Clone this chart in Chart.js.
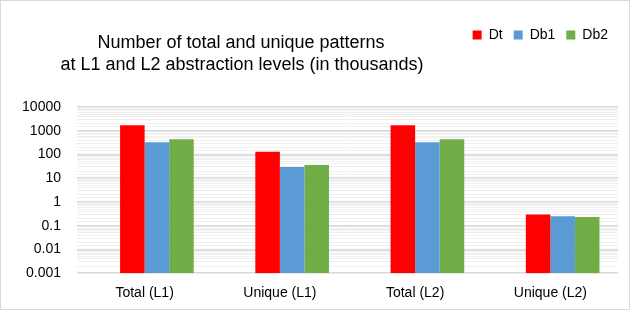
<!DOCTYPE html>
<html>
<head>
<meta charset="utf-8">
<script src="https://cdn.jsdelivr.net/npm/chart.js@4/dist/chart.umd.min.js"></script>
<style>
html,body{margin:0;padding:0;background:#fff;}
#wrap{width:630px;height:310px;position:relative;}
</style>
</head>
<body>
<div id="wrap"><canvas id="c" width="630" height="310"></canvas></div>
<script>
const categories = ["Total (L1)", "Unique (L1)", "Total (L2)", "Unique (L2)"];
const seriesNames = ["Dt", "Db1", "Db2"];
const dtValues = [1700, 130, 1700, 0.30];
const db1Values = [330, 30, 330, 0.25];
const db2Values = [440, 36, 440, 0.235];
const emptySlot = [null, null, null, null];
const yTickLabels = ["10000", "1000", "100", "10", "1", "0.1", "0.01", "0.001"];
const titleLines = ["Number of total and unique patterns", "at L1 and L2 abstraction levels (in thousands)"];
const colors = ["#FF0000", "#5B9BD5", "#70AD47"];

const FONT = "'Liberation Sans', Arial, sans-serif";

const frameAndTitle = {
  id: 'frameAndTitle',
  afterInit(chart) {
    const lg = chart.legend;
    if (lg) {
      const orig = lg.fit;
      lg.fit = function () { orig.call(this); this.height += 55; };
    }
  },
  afterLayout(chart) {
    if (chart.legend) chart.legend.right = 619;
  },
  afterDraw(chart) {
    const ctx = chart.ctx;
    ctx.save();
    ctx.strokeStyle = '#d9d9d9';
    ctx.lineWidth = 1;
    ctx.strokeRect(0.5, 0.5, chart.width - 1, chart.height - 1);
    ctx.fillStyle = '#000';
    ctx.font = '18px ' + FONT;
    ctx.textAlign = 'center';
    ctx.textBaseline = 'middle';
    ctx.fillText(titleLines[0], 241, 43);
    ctx.fillText(titleLines[1], 242, 65);
    ctx.restore();
  }
};

const tickSet = new Set(yTickLabels.map(Number));

new Chart(document.getElementById('c'), {
  type: 'bar',
  data: {
    labels: categories,
    datasets: [
      { label: '', data: emptySlot, backgroundColor: 'rgba(0,0,0,0)' },
      { label: seriesNames[0], data: dtValues, backgroundColor: colors[0] },
      { label: seriesNames[1], data: db1Values, backgroundColor: colors[1] },
      { label: seriesNames[2], data: db2Values, backgroundColor: colors[2] }
    ]
  },
  options: {
    responsive: false,
    animation: false,
    devicePixelRatio: 1,
    layout: { padding: { left: 10, right: 12, top: 17, bottom: 4 } },
    datasets: { bar: { barPercentage: 1.0, categoryPercentage: 0.726 } },
    plugins: {
      title: { display: false },
      tooltip: { enabled: false },
      legend: {
        position: 'top',
        align: 'end',
        labels: {
          boxWidth: 9, boxHeight: 9, padding: 11,
          color: '#000',
          font: { family: FONT, size: 14 },
          filter(item) { return item.text !== ''; }
        }
      }
    },
    scales: {
      x: {
        grid: { display: false },
        border: { display: false },
        ticks: { color: '#000', font: { family: FONT, size: 14 }, padding: 4 }
      },
      y: {
        type: 'logarithmic',
        min: 0.001,
        max: 10000,
        afterFit(scale) { scale.width = 67; },
        border: { display: false },
        grid: {
          drawTicks: false,
          color(ctx) {
            if (!ctx.tick) return '#eeeeee';
            return tickSet.has(ctx.tick.value) ? '#d9d9d9' : '#f0f0f0';
          },
          lineWidth(ctx) {
            if (!ctx.tick) return 1;
            return tickSet.has(ctx.tick.value) ? 1.5 : 1;
          }
        },
        ticks: {
          autoSkip: false,
          color: '#000',
          font: { family: FONT, size: 14 },
          padding: 16,
          callback(value) {
            const s = yTickLabels.find(t => Number(t) === value);
            return s !== undefined ? s : '';
          }
        }
      }
    }
  },
  plugins: [frameAndTitle]
});
</script>
</body>
</html>
